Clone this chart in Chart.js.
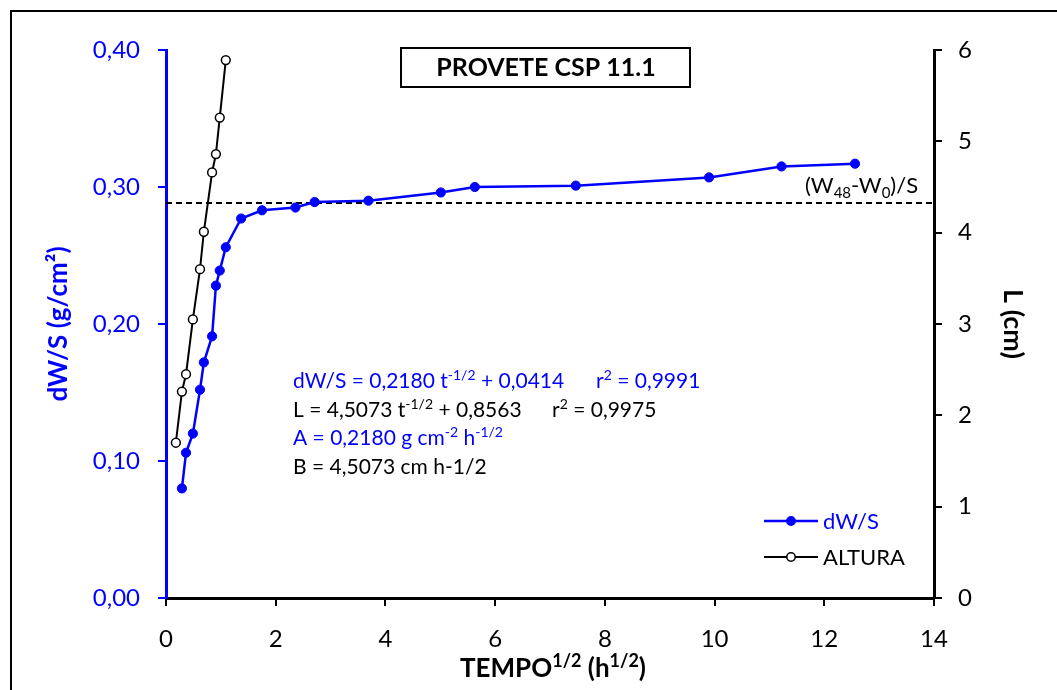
<!DOCTYPE html>
<html>
<head>
<meta charset="utf-8">
<script src="https://cdn.jsdelivr.net/npm/chart.js@4/dist/chart.umd.min.js"></script>
<style>
html,body{margin:0;padding:0;background:#fff;}
#wrap{width:1057px;height:690px;position:relative;}
</style>
</head>
<body>
<div id="wrap"><canvas id="c" width="1057" height="690"></canvas></div>
<script>
// ---- data ----
const tempoDW = [0.29,0.365,0.49,0.62,0.69,0.84,0.91,0.98,1.09,1.37,1.75,2.36,2.71,3.69,5.01,5.63,7.47,9.90,11.22,12.56];
const dwsValues = [0.080,0.106,0.120,0.152,0.172,0.191,0.228,0.239,0.256,0.277,0.283,0.285,0.289,0.290,0.296,0.300,0.301,0.307,0.315,0.317];
const tempoL = [0.18,0.29,0.365,0.49,0.62,0.69,0.84,0.91,0.98,1.09];
const alturaValues = [1.70,2.26,2.45,3.05,3.60,4.01,4.66,4.86,5.26,5.89];
const refLevel = 0.2883;           // (W48-W0)/S
const refSpan = [0, 14];
const xTicks = [0,2,4,6,8,10,12,14];
const leftTicks = [0,0.1,0.2,0.3,0.4];
const rightTicks = [0,1,2,3,4,5,6];
const seriesNames = ['dW/S','ALTURA'];
const chartTitle = 'PROVETE CSP 11.1';

const FONT = 'Lato';
const BLUE = '#0000FF';

function rich(ctx, x, y, parts, size, color, bold) {
  ctx.fillStyle = color;
  ctx.textBaseline = 'alphabetic';
  ctx.textAlign = 'left';
  for (const p of parts) {
    const t = p[0], k = p[1];
    const s = k ? Math.round(size * 0.68) : size;
    ctx.font = (bold ? 'bold ' : '') + s + 'px ' + FONT;
    const dy = k === 'sup' ? -size * 0.38 : (k === 'sub' ? size * 0.22 : 0);
    ctx.fillText(t, x, y + dy);
    x += ctx.measureText(t).width;
  }
  return x;
}
function richWidth(ctx, parts, size, bold) {
  let w = 0;
  for (const p of parts) {
    const s = p[1] ? Math.round(size * 0.68) : size;
    ctx.font = (bold ? 'bold ' : '') + s + 'px ' + FONT;
    w += ctx.measureText(p[0]).width;
  }
  return w;
}

const decor = {
  id: 'decor',
  afterDraw(chart) {
    const ctx = chart.ctx;
    ctx.save();
    // outer frame
    ctx.strokeStyle = '#000'; ctx.lineWidth = 2;
    ctx.strokeRect(11, 11, 1060, 700);
    // title box
    ctx.fillStyle = '#fff';
    ctx.fillRect(401, 48, 289, 39);
    ctx.lineWidth = 2;
    ctx.strokeRect(401, 48, 289, 39);
    ctx.fillStyle = '#000';
    ctx.font = 'bold 25px ' + FONT;
    ctx.textAlign = 'center'; ctx.textBaseline = 'middle';
    ctx.fillText(chartTitle, 546, 68);

    // equations
    const sz = 21;
    rich(ctx, 293, 388, [['dW/S = 0,2180 t'],['-1/2','sup'],[' + 0,0414']], sz, BLUE);
    rich(ctx, 596, 388, [['r'],['2','sup'],[' = 0,9991']], sz, BLUE);
    rich(ctx, 293, 417, [['L = 4,5073 t'],['-1/2','sup'],[' + 0,8563']], sz, '#000');
    rich(ctx, 552, 417, [['r'],['2','sup'],[' = 0,9975']], sz, '#000');
    rich(ctx, 293, 445, [['A = 0,2180 g cm'],['-2','sup'],[' h'],['-1/2','sup']], sz, BLUE);
    rich(ctx, 293, 474, [['B = 4,5073 cm h-1/2']], sz, '#000');

    // reference label
    rich(ctx, 805, 193, [['(W'],['48','sub'],['-W'],['0','sub'],[')/S']], 22, '#000');

    // x axis title
    const xt = [['TEMPO'],['1/2','sup'],[' (h'],['1/2','sup'],[')']];
    const w = richWidth(ctx, xt, 26, true);
    rich(ctx, 553 - w/2, 677, xt, 26, '#000', true);

    // legend
    const legend = [
      {name: seriesNames[0], color: BLUE, fill: BLUE, y: 521, lw: 2.5},
      {name: seriesNames[1], color: '#000', fill: '#fff', y: 557, lw: 2}
    ];
    for (const L of legend) {
      ctx.strokeStyle = L.color; ctx.lineWidth = L.lw;
      ctx.beginPath(); ctx.moveTo(764, L.y); ctx.lineTo(818, L.y); ctx.stroke();
      ctx.beginPath(); ctx.arc(791, L.y, 4.2, 0, Math.PI*2);
      ctx.fillStyle = L.fill; ctx.fill();
      ctx.lineWidth = 1.5; ctx.stroke();
      ctx.fillStyle = L.color;
      ctx.font = '22px ' + FONT;
      ctx.textAlign = 'left'; ctx.textBaseline = 'middle';
      ctx.fillText(L.name, 823, L.y + 1);
    }
    ctx.restore();
  }
};

const bluePts = tempoDW.map((x, i) => ({x, y: dwsValues[i]}));
const blackPts = tempoL.map((x, i) => ({x, y: alturaValues[i]}));
const refPts = refSpan.map(x => ({x, y: refLevel}));

new Chart(document.getElementById('c'), {
  type: 'scatter',
  data: {
    datasets: [
      {label: seriesNames[0], data: bluePts, showLine: true, borderColor: BLUE, backgroundColor: BLUE,
       borderWidth: 2.5, pointRadius: 4.6, pointBorderWidth: 1, pointBorderColor: BLUE, yAxisID: 'y', order: 2},
      {label: seriesNames[1], data: blackPts, showLine: true, borderColor: '#000', backgroundColor: '#fff',
       borderWidth: 2, pointRadius: 4.4, pointBorderWidth: 1.5, pointBorderColor: '#000', yAxisID: 'y2', order: 1},
      {label: 'ref', data: refPts, showLine: true, borderColor: '#000', borderWidth: 2, borderDash: [6, 4],
       pointRadius: 0, yAxisID: 'y', order: 3}
    ]
  },
  options: {
    responsive: false,
    animation: false,
    events: [],
    layout: {padding: {top: 50, left: 0, right: 0, bottom: 0}},
    plugins: {legend: {display: false}, tooltip: {enabled: false}, title: {display: false}},
    scales: {
      x: {
        type: 'linear', position: 'bottom', min: 0, max: 14,
        afterBuildTicks: s => { s.ticks = xTicks.map(v => ({value: v})); },
        afterFit: s => { s.height = 92; },
        ticks: {color: '#000', font: {family: FONT, size: 24}, padding: 19, maxRotation: 0,
                callback: v => String(v)},
        grid: {display: true, drawOnChartArea: false, drawTicks: true, tickLength: 8, color: '#000', lineWidth: 2},
        border: {display: true, color: '#000', width: 3}
      },
      y: {
        type: 'linear', position: 'left', min: 0, max: 0.4,
        afterBuildTicks: s => { s.ticks = leftTicks.map(v => ({value: v})); },
        afterFit: s => { s.width = 166; },
        ticks: {color: BLUE, font: {family: FONT, size: 24}, padding: 18,
                callback: v => v.toFixed(2).replace('.', ',')},
        grid: {display: true, drawOnChartArea: false, drawTicks: true, tickLength: 8, color: BLUE, lineWidth: 2},
        border: {display: true, color: BLUE, width: 3},
        title: {display: true, text: 'dW/S (g/cm²)', color: BLUE, font: {family: FONT, size: 26, weight: 'bold'},
                padding: {top: 43, bottom: 0}}
      },
      y2: {
        type: 'linear', position: 'right', min: 0, max: 6,
        afterBuildTicks: s => { s.ticks = rightTicks.map(v => ({value: v})); },
        afterFit: s => { s.width = 123; },
        ticks: {color: '#000', font: {family: FONT, size: 24}, padding: 16, callback: v => String(v)},
        grid: {display: true, drawOnChartArea: false, drawTicks: true, tickLength: 8, color: '#000', lineWidth: 2},
        border: {display: true, color: '#000', width: 3},
        title: {display: true, text: 'L (cm)', color: '#000', font: {family: FONT, size: 27, weight: 'bold'},
                padding: {top: 28, bottom: 0}}
      }
    }
  },
  plugins: [decor]
});
</script>
</body>
</html>
